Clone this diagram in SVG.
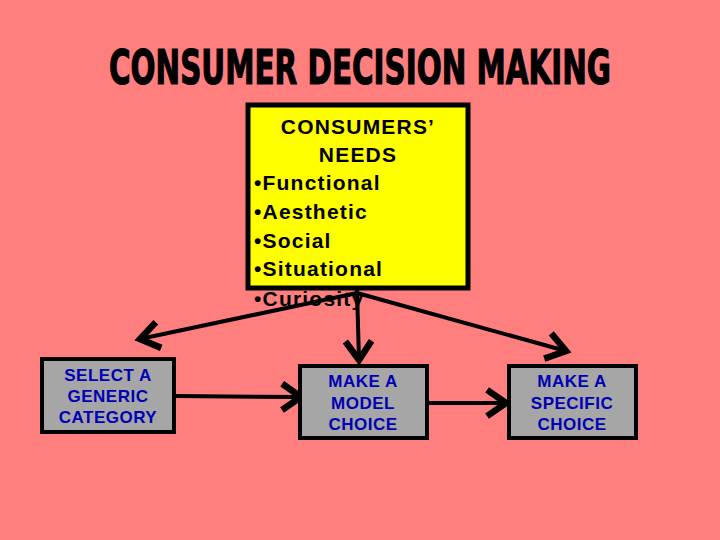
<svg xmlns="http://www.w3.org/2000/svg" width="720" height="540" viewBox="0 0 720 540">
<defs>
<marker id="ah" markerUnits="userSpaceOnUse" markerWidth="32" markerHeight="32" refX="15" refY="11" orient="auto" viewBox="0 0 22 22">
<path d="M2,2 L15,11 L2,20" fill="none" stroke="#000" stroke-width="4.5" stroke-linejoin="miter"/>
</marker>
<style>
.bg{fill:#FF7F7F}
.box{fill:#A6A6A6;stroke:#000;stroke-width:4}
.lbl{font-family:"Liberation Sans",Arial,sans-serif;font-weight:bold;font-size:17px;letter-spacing:0.5px;fill:#0000B4;text-anchor:middle}
.need{font-family:"Liberation Sans",Arial,sans-serif;font-weight:bold;font-size:21px;letter-spacing:1.2px;fill:#000}
.conn{stroke:#000;stroke-width:4;fill:none;marker-end:url(#ah)}
</style>
</defs>
<rect class="bg" x="0" y="0" width="720" height="540"/>
<text x="360" y="84" font-family="'DejaVu Sans Condensed','DejaVu Sans',sans-serif" font-stretch="condensed" font-weight="bold" font-size="48" text-anchor="middle" textLength="502" lengthAdjust="spacingAndGlyphs" fill="#000" stroke="#000" stroke-width="1.2">CONSUMER DECISION MAKING</text>
<g id="needs">
<text class="need" x="254" y="306">•Curiosity</text>
<rect x="248" y="105" width="220" height="183" fill="#FFFF00" stroke="#000" stroke-width="5"/>
<text class="need" x="358" y="134" text-anchor="middle">CONSUMERS’</text>
<text class="need" x="358" y="162" text-anchor="middle">NEEDS</text>
<text class="need" x="254" y="190">•Functional</text>
<text class="need" x="254" y="219">•Aesthetic</text>
<text class="need" x="254" y="248">•Social</text>
<text class="need" x="254" y="276">•Situational</text>
</g>
<g id="connectors">
<line class="conn" x1="357" y1="293" x2="140" y2="339"/>
<line class="conn" x1="357" y1="290" x2="359" y2="360"/>
<line class="conn" x1="357" y1="293" x2="566" y2="351"/>
<line class="conn" x1="174" y1="396" x2="301" y2="397"/>
<line class="conn" x1="427" y1="403" x2="506" y2="403"/>
</g>
<g id="generic">
<rect class="box" x="42" y="359" width="132" height="73"/>
<text class="lbl" x="108" y="381">SELECT A</text>
<text class="lbl" x="108" y="402">GENERIC</text>
<text class="lbl" x="108" y="423">CATEGORY</text>
</g>
<g id="model">
<rect class="box" x="300" y="366" width="127" height="72"/>
<text class="lbl" x="363" y="387">MAKE A</text>
<text class="lbl" x="363" y="409">MODEL</text>
<text class="lbl" x="363" y="430">CHOICE</text>
</g>
<g id="specific">
<rect class="box" x="509" y="366" width="127" height="72"/>
<text class="lbl" x="572" y="387">MAKE A</text>
<text class="lbl" x="572" y="409">SPECIFIC</text>
<text class="lbl" x="572" y="430">CHOICE</text>
</g>
</svg>
